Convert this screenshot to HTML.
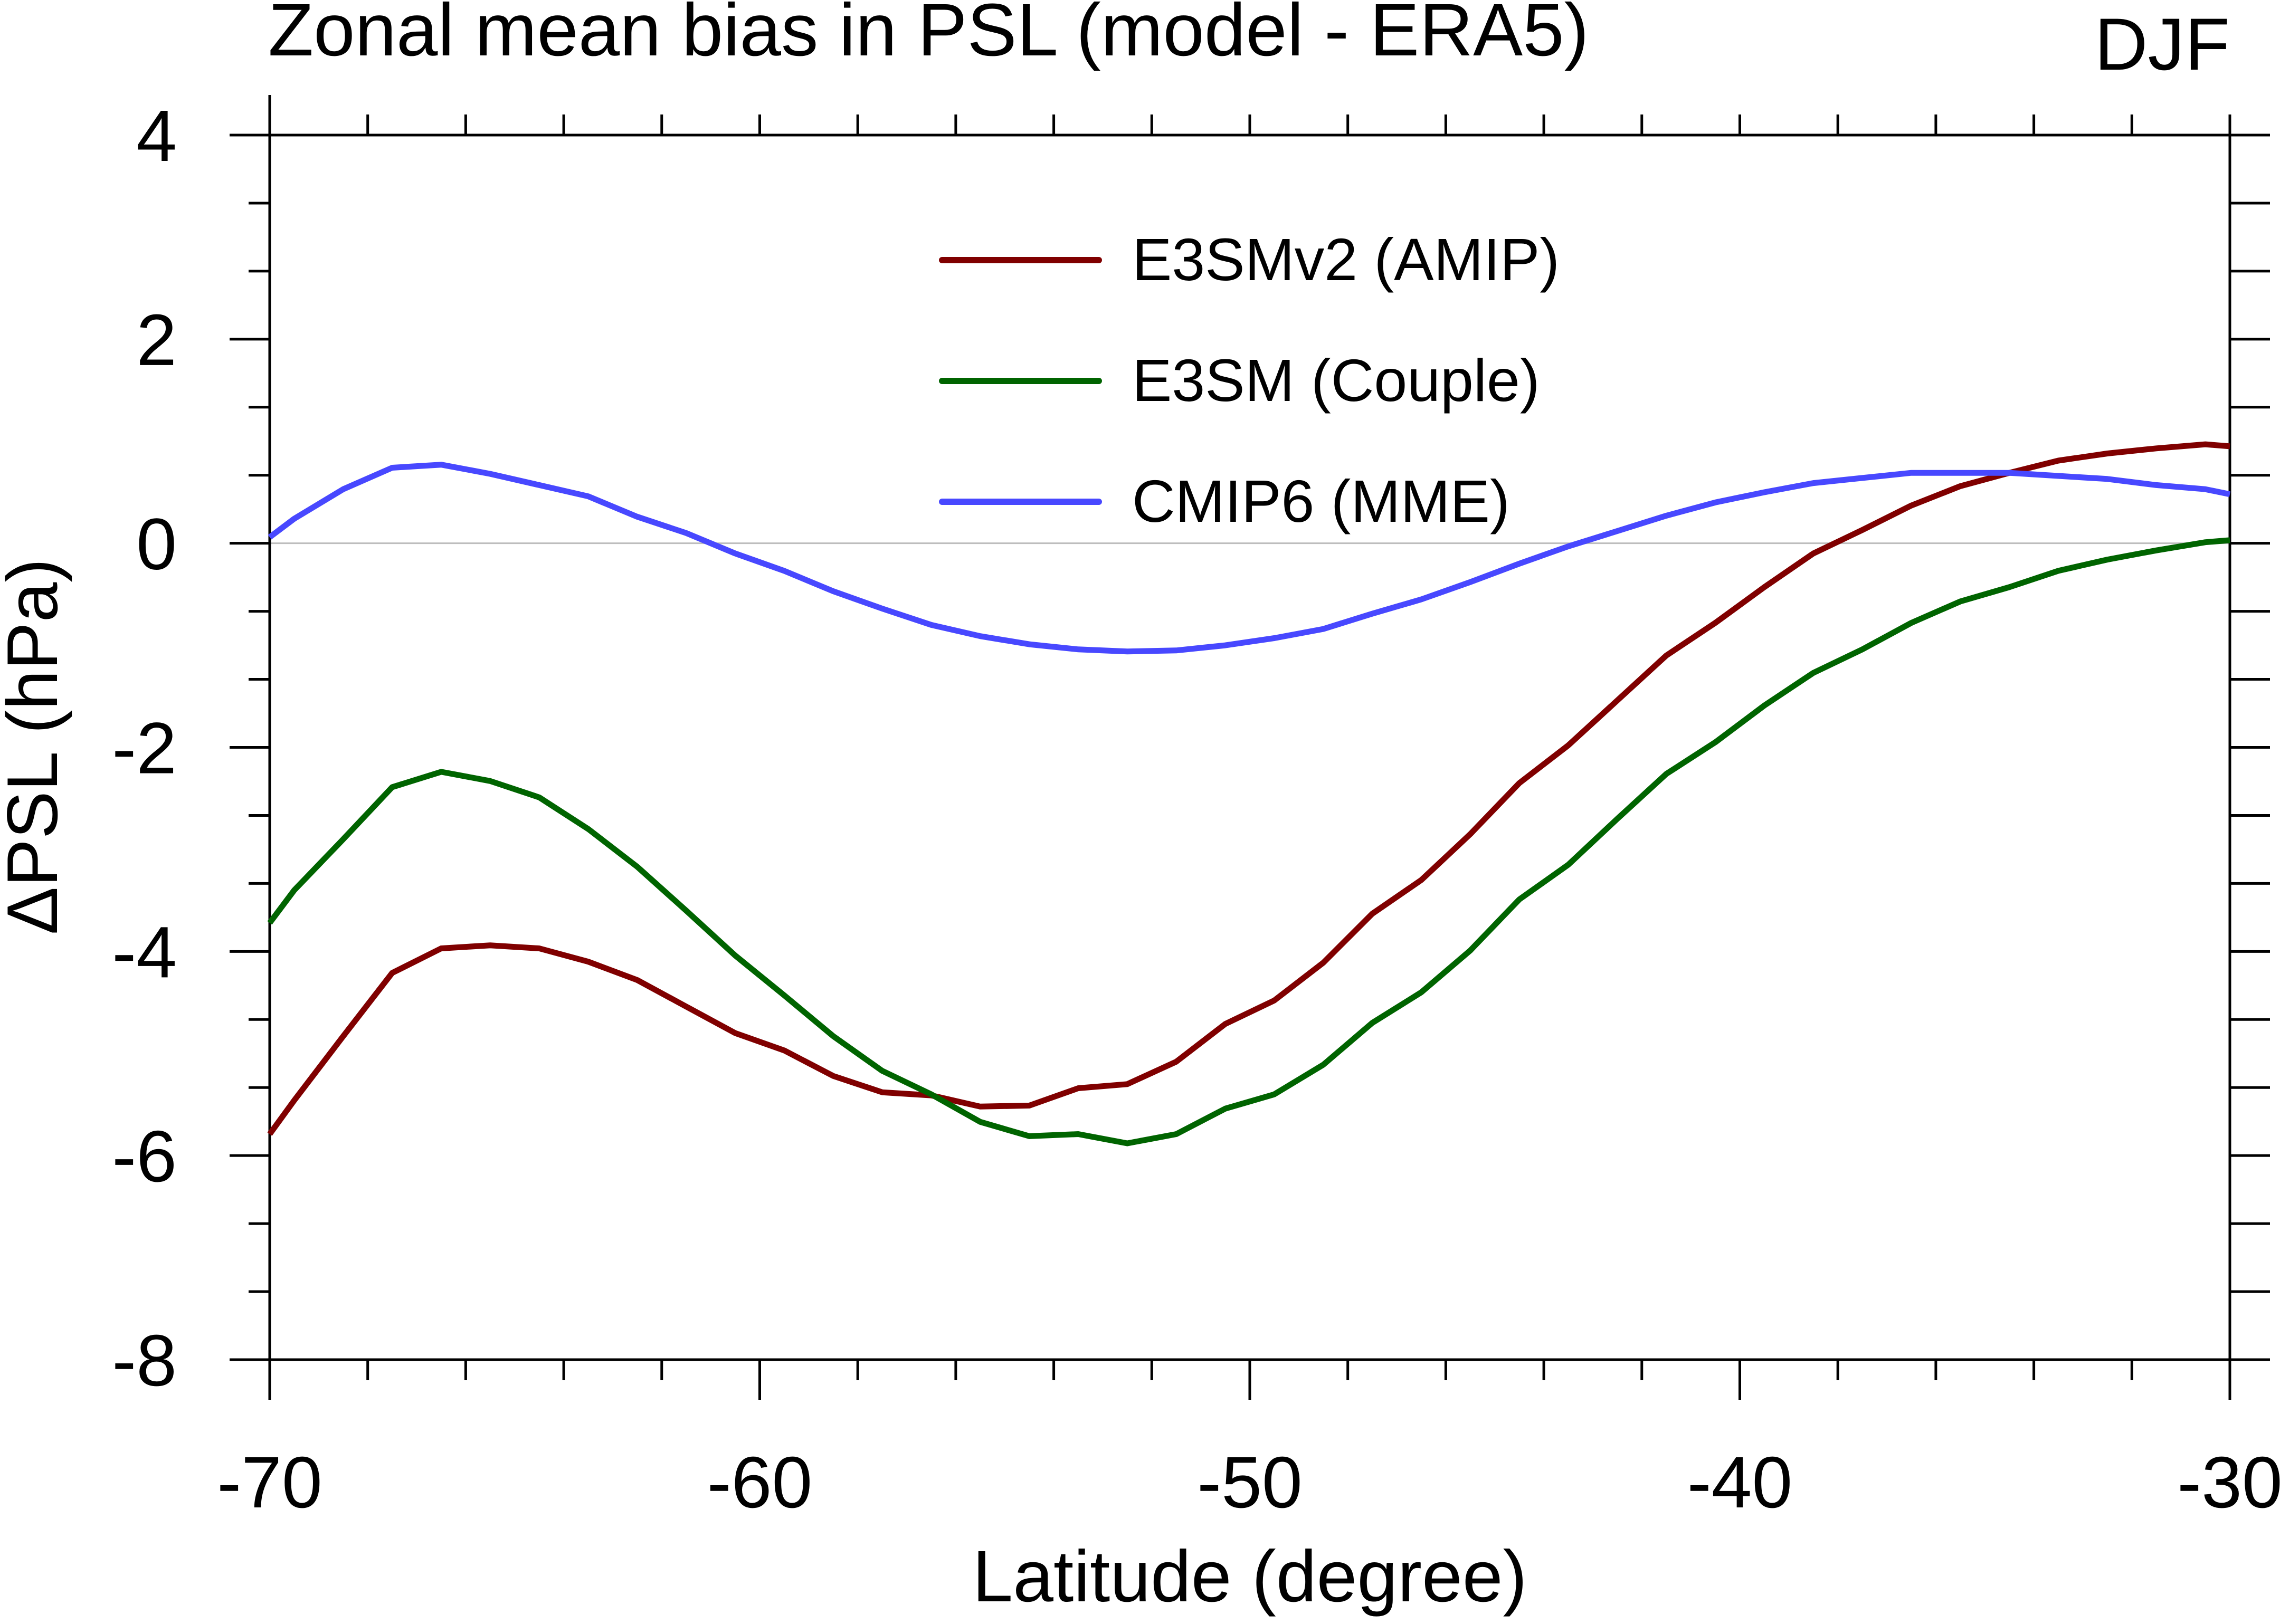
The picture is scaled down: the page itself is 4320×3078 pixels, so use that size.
<!DOCTYPE html>
<html><head><meta charset="utf-8"><style>
html,body{margin:0;padding:0;background:#fff;}
svg{display:block;font-family:"Liberation Sans",Arial,sans-serif;}
</style></head><body>
<svg id="chart" width="4320" height="3078" viewBox="0 0 4320 3078" xmlns="http://www.w3.org/2000/svg">
<rect width="4320" height="3078" fill="#fff"/>
<text x="508" y="105" font-size="141" fill="#000">Zonal mean bias in PSL (model - ERA5)</text>
<text x="4225" y="132" font-size="140" text-anchor="end" fill="#000">DJF</text>
<text x="2368" y="3035" font-size="138" text-anchor="middle" fill="#000">Latitude (degree)</text>
<text x="0" y="0" font-size="136" text-anchor="middle" fill="#000" transform="translate(108,1415) rotate(-90)">ΔPSL (hPa)</text>
<g id="axes"></g>
<g id="series"></g>
<g id="legend"></g>
</svg>
<script>
const lats = [-70,-69.5,-68.5,-67.5,-66.5,-65.5,-64.5,-63.5,-62.5,-61.5,-60.5,-59.5,-58.5,-57.5,-56.5,-55.5,-54.5,-53.5,-52.5,-51.5,-50.5,-49.5,-48.5,-47.5,-46.5,-45.5,-44.5,-43.5,-42.5,-41.5,-40.5,-39.5,-38.5,-37.5,-36.5,-35.5,-34.5,-33.5,-32.5,-31.5,-30.5,-30];
const e3smv2Amip = [-5.79,-5.46,-4.83,-4.21,-3.97,-3.94,-3.97,-4.1,-4.28,-4.54,-4.8,-4.97,-5.22,-5.38,-5.41,-5.52,-5.51,-5.34,-5.3,-5.08,-4.71,-4.48,-4.11,-3.63,-3.3,-2.85,-2.35,-1.98,-1.54,-1.1,-0.78,-0.43,-0.1,0.13,0.37,0.56,0.69,0.81,0.88,0.93,0.97,0.95];
const e3smCouple = [-3.72,-3.4,-2.9,-2.39,-2.24,-2.33,-2.49,-2.8,-3.17,-3.6,-4.04,-4.43,-4.83,-5.17,-5.4,-5.67,-5.81,-5.79,-5.88,-5.79,-5.54,-5.4,-5.11,-4.7,-4.4,-3.99,-3.49,-3.15,-2.7,-2.26,-1.95,-1.59,-1.27,-1.04,-0.78,-0.57,-0.43,-0.27,-0.16,-0.07,0.01,0.03];
const cmip6Mme = [0.06,0.24,0.53,0.74,0.77,0.68,0.57,0.46,0.26,0.1,-0.1,-0.27,-0.47,-0.64,-0.8,-0.91,-0.99,-1.04,-1.06,-1.05,-1.0,-0.93,-0.84,-0.69,-0.55,-0.38,-0.2,-0.03,0.12,0.27,0.4,0.5,0.59,0.64,0.69,0.69,0.69,0.66,0.63,0.57,0.53,0.48];
const xTicks = [-70,-60,-50,-40,-30];
const yTicks = [4,2,0,-2,-4,-6,-8];
const seriesNames = ["E3SMv2 (AMIP)","E3SM (Couple)","CMIP6 (MME)"];
const seriesColors = ["#800000","#006400","#4848ff"];

const X0=511,X1=4225,Y0=256,Y1=2577;
const xMin=-70,xMax=-30,yMin=-8,yMax=4;
const sx=v=>X0+(v-xMin)/(xMax-xMin)*(X1-X0);
const sy=v=>Y1-(v-yMin)/(yMax-yMin)*(Y1-Y0);
const NS="http://www.w3.org/2000/svg";
function mk(tag,attrs,parent){const e=document.createElementNS(NS,tag);for(const k in attrs)e.setAttribute(k,attrs[k]);parent.appendChild(e);return e;}
const axes=document.getElementById('axes');

const zl=mk('line',{x1:X0,x2:X1,y1:sy(0),y2:sy(0),stroke:'#bdbdbd','stroke-width':3},axes);



const frame=mk('rect',{x:X0,y:Y0,width:X1-X0,height:Y1-Y0,fill:'none',stroke:'#000','stroke-width':5},axes);



for(let v=xMin;v<=xMax+0.001;v+=2){
  const major=Math.abs(v%10)<0.001;
  const L=major?76:39;
  const x=sx(v);
  const t1=mk('line',{x1:x,x2:x,y1:Y1,y2:Y1+L,stroke:'#000','stroke-width':5},axes);
  
  
  const LT=(Math.abs(v-xMin)<0.001)?76:39;
  const t2=mk('line',{x1:x,x2:x,y1:Y0,y2:Y0-LT,stroke:'#000','stroke-width':5},axes);
  
  
}
xTicks.forEach(v=>{
  const t=mk('text',{x:sx(v),y:2857,'font-size':138,'text-anchor':'middle',fill:'#000'},axes);
  t.textContent=String(v);
  
  
});
for(let i=0;i<=18;i++){
  const v=yMin+i*(2/3);
  const major=i%3===0;
  const L=major?76:40;
  const y=sy(v);
  const t1=mk('line',{x1:X0,x2:X0-L,y1:y,y2:y,stroke:'#000','stroke-width':5},axes);
  
  
  const t2=mk('line',{x1:X1,x2:X1+76,y1:y,y2:y,stroke:'#000','stroke-width':5},axes);
  
  
}
yTicks.forEach(v=>{
  const t=mk('text',{x:335,y:sy(v)+49,'font-size':138,'text-anchor':'end',fill:'#000'},axes);
  t.textContent=String(v);
  
  
});

const ser=document.getElementById('series');
[e3smv2Amip,e3smCouple,cmip6Mme].forEach((vals,i)=>{
  const d=vals.map((v,j)=>(j?'L':'M')+sx(lats[j]).toFixed(1)+' '+sy(v).toFixed(1)).join(' ');
  const p=mk('path',{d:d,fill:'none',stroke:seriesColors[i],'stroke-width':11,'stroke-linejoin':'round'},ser);
  
  
});

const leg=document.getElementById('legend');
const legY=[493,722,951];
seriesNames.forEach((n,i)=>{
  const l=mk('line',{x1:1785,x2:2082,y1:legY[i],y2:legY[i],stroke:seriesColors[i],'stroke-width':12,'stroke-linecap':'round'},leg);
  
  
  const t=mk('text',{x:2145,y:legY[i]+38,'font-size':113,fill:'#000'},leg);
  t.textContent=n;
  
  
});
</script>
</body></html>
